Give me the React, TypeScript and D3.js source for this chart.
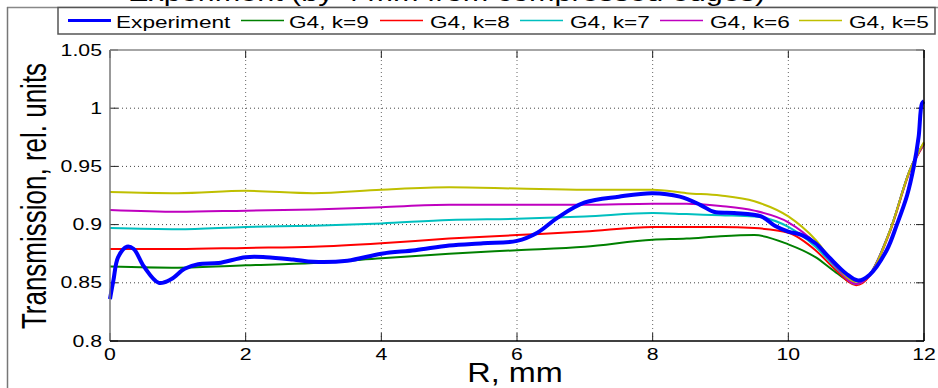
import React from "react";
import * as d3 from "d3";

const W = 938;
const H = 388;
const M = { left: 110, right: 14, top: 50, bottom: 47 };

const xTicks = [0, 2, 4, 6, 8, 10, 12];
const yTicks = [0.8, 0.85, 0.9, 0.95, 1, 1.05];
const yTickLabels = ["0.8", "0.85", "0.9", "0.95", "1", "1.05"];

const expX = [0, 0.05, 0.12, 0.25, 0.35, 0.5, 0.72, 0.9, 1.1, 1.3, 1.6, 2.0, 2.3, 2.7, 3.0, 3.5, 4.0, 4.5, 5.0, 5.5, 6.0, 6.3, 6.6, 7.0, 7.5, 8.0, 8.4, 8.7, 8.9, 9.2, 9.6, 9.8, 10.0, 10.2, 10.4, 10.6, 10.85, 11.03, 11.2, 11.45, 11.6, 11.75, 11.85, 11.92, 11.97, 12];
const expY = [0.836, 0.852, 0.872, 0.881, 0.879, 0.864, 0.85, 0.853, 0.862, 0.866, 0.867, 0.872, 0.872, 0.87, 0.868, 0.869, 0.875, 0.878, 0.882, 0.884, 0.886, 0.893, 0.906, 0.919, 0.924, 0.927, 0.924, 0.917, 0.911, 0.91, 0.907, 0.899, 0.894, 0.891, 0.884, 0.872, 0.858, 0.852, 0.857, 0.878, 0.9, 0.925, 0.95, 0.975, 1.004, 1.006];

const modelX = [0, 1, 2, 3, 4, 5, 6, 7, 8, 8.5, 9, 9.5, 10, 10.4, 10.7, 11, 11.2, 11.5, 11.8, 12];
const k9 = [0.864, 0.863, 0.865, 0.867, 0.871, 0.875, 0.878, 0.881, 0.887, 0.888, 0.89, 0.891, 0.883, 0.872, 0.859, 0.849, 0.857, 0.895, 0.948, 0.97];
const k8 = [0.879, 0.879, 0.88, 0.881, 0.884, 0.888, 0.891, 0.894, 0.898, 0.898, 0.898, 0.897, 0.893, 0.878, 0.861, 0.848, 0.856, 0.894, 0.947, 0.969];
const k7 = [0.897, 0.896, 0.898, 0.899, 0.901, 0.904, 0.905, 0.907, 0.91, 0.909, 0.908, 0.907, 0.898, 0.881, 0.863, 0.849, 0.857, 0.895, 0.948, 0.97];
const k6 = [0.9125, 0.911, 0.912, 0.913, 0.915, 0.917, 0.917, 0.917, 0.918, 0.918, 0.916, 0.912, 0.902, 0.884, 0.864, 0.849, 0.857, 0.895, 0.948, 0.97];
const k5 = [0.928, 0.927, 0.929, 0.927, 0.93, 0.932, 0.931, 0.93, 0.93, 0.927, 0.925, 0.92, 0.907, 0.887, 0.865, 0.851, 0.857, 0.895, 0.948, 0.971];

const seriesNames = ["Experiment", "G4, k=9", "G4, k=8", "G4, k=7", "G4, k=6", "G4, k=5"];
const seriesColors = ["#0000ff", "#008000", "#ff0000", "#00bfbf", "#bf00bf", "#bfbf00"];

const FONT = "'Liberation Sans', Arial, Helvetica, sans-serif";
const SX = 1.33;

function SText(props: { x: number; y: number; size: number; anchor?: string; rotate?: number; sx?: number; children: React.ReactNode }) {
  const { x, y, size, anchor = "start", rotate = 0, sx = SX, children } = props;
  return (
    <text
      transform={`translate(${x},${y}) scale(${sx},1) rotate(${rotate})`}
      fontSize={size}
      fontFamily={FONT}
      textAnchor={anchor}
      fill="#000"
    >
      {children}
    </text>
  );
}

export default function App() {
  const x = d3.scaleLinear().domain([0, 12]).range([M.left, W - M.right]);
  const y = d3.scaleLinear().domain([0.8, 1.05]).range([H - M.bottom, M.top]);

  const modelLine = d3
    .line<number>()
    .x((_, i) => x(modelX[i]))
    .y((d) => y(d))
    .curve(d3.curveMonotoneX);
  const expLine = d3
    .line<number>()
    .x((_, i) => x(expX[i]))
    .y((d) => y(d))
    .curve(d3.curveCatmullRom.alpha(0.5));

  const models = [k9, k8, k7, k6, k5];
  const x0 = x(0), x1 = x(12), y0 = y(0.8), y1 = y(1.05);

  const legendItems = [
    { lx: 68, tx: 116 },
    { lx: 241, tx: 289 },
    { lx: 380, tx: 430 },
    { lx: 520, tx: 570 },
    { lx: 660, tx: 710 },
    { lx: 799, tx: 849 },
  ];

  return (
    <svg width={W} height={H} style={{ position: "absolute", left: 0, top: 0, background: "#fff" }}>
      <rect x={0} y={0} width={W} height={H} fill="#fff" />
      {/* title (cropped at the top in the reference) */}
      <SText x={128} y={1} size={23}>Experiment (by 4 mm from compressed edges)</SText>
      {/* figure border */}
      <line x1={7} y1={7.5} x2={W} y2={7.5} stroke="#888" strokeWidth={1.5} />
      <line x1={7.5} y1={7} x2={7.5} y2={H} stroke="#777" strokeWidth={1.5} />

      {/* grid */}
      {xTicks.slice(1, -1).map((t) => (
        <line key={"gx" + t} x1={x(t)} x2={x(t)} y1={y0} y2={y1} stroke="#666" strokeWidth={1} strokeDasharray="1 3" />
      ))}
      {yTicks.slice(1, -1).map((t) => (
        <line key={"gy" + t} x1={x0} x2={x1} y1={y(t)} y2={y(t)} stroke="#444" strokeWidth={1} strokeDasharray="1 3" />
      ))}

      {/* ticks */}
      {xTicks.map((t) => (
        <g key={"tx" + t}>
          <line x1={x(t)} x2={x(t)} y1={y0} y2={y0 - 8} stroke="#222" />
          <line x1={x(t)} x2={x(t)} y1={y1} y2={y1 + 8} stroke="#222" />
        </g>
      ))}
      {yTicks.map((t) => (
        <g key={"ty" + t}>
          <line x1={x0} x2={x0 + 8} y1={y(t)} y2={y(t)} stroke="#222" />
          <line x1={x1} x2={x1 - 8} y1={y(t)} y2={y(t)} stroke="#222" />
        </g>
      ))}

      {/* model lines */}
      {models.map((vals, i) => (
        <path key={"m" + i} d={modelLine(vals) || ""} fill="none" stroke={seriesColors[i + 1]} strokeWidth={2} />
      ))}
      {/* experiment */}
      <path d={expLine(expY) || ""} fill="none" stroke={seriesColors[0]} strokeWidth={4} strokeLinejoin="round" />

      {/* axes frame */}
      <line x1={x0} x2={x1} y1={y1} y2={y1} stroke="#888" strokeWidth={1.5} />
      <line x1={x0} x2={x0} y1={y1} y2={y0} stroke="#777" strokeWidth={1.5} />
      <line x1={x0} x2={x1} y1={y0} y2={y0} stroke="#000" strokeWidth={1.5} />
      <line x1={x1} x2={x1} y1={y1} y2={y0} stroke="#000" strokeWidth={1.5} />

      {/* tick labels */}
      {xTicks.map((t) => (
        <SText key={"lx" + t} x={x(t)} y={360} size={16} anchor="middle">{String(t)}</SText>
      ))}
      {yTicks.map((t, i) => (
        <SText key={"ly" + t} x={102} y={y(t) + 5.5} size={16} anchor="end">{yTickLabels[i]}</SText>
      ))}

      {/* axis labels */}
      <SText x={515} y={382} size={27} anchor="middle" sx={1.2}>R, mm</SText>
      <SText x={46} y={196} size={26} anchor="middle" rotate={-90}>Transmission, rel. units</SText>

      {/* legend */}
      <rect x={58} y={7.5} width={877} height={26.5} fill="#fff" stroke="#555" strokeWidth={1.5} />
      {legendItems.map((it, i) => (
        <g key={"lg" + i}>
          <line x1={it.lx} x2={it.lx + 43} y1={20.5} y2={20.5} stroke={seriesColors[i]} strokeWidth={i === 0 ? 3 : 1.5} />
          <SText x={it.tx} y={27.5} size={17}>{seriesNames[i]}</SText>
        </g>
      ))}
    </svg>
  );
}
